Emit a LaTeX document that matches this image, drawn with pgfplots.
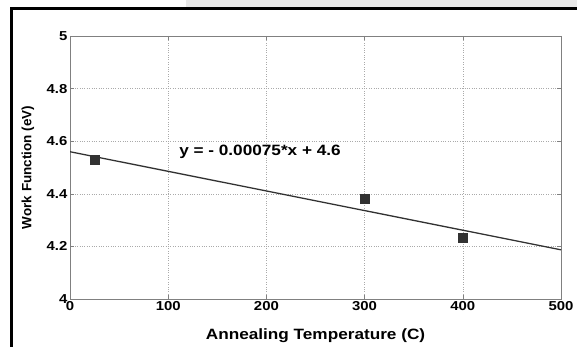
\documentclass[border=0pt]{standalone}
\usepackage{pgfplots}
\pgfplotsset{compat=1.18}
\usepackage{fontspec}
\setmainfont{Liberation Sans}
\newfontfamily\wfont[FakeStretch=1.15]{Liberation Sans}
\definecolor{axgray}{RGB}{128,128,128}
\definecolor{gridgray}{RGB}{170,170,170}
\definecolor{dk}{RGB}{50,50,50}
\definecolor{bargray}{RGB}{233,233,233}
\begin{document}
\begin{tikzpicture}[x=1bp,y=1bp]
\useasboundingbox (0,0) rectangle (577,347);
\fill[bargray] (186,340) rectangle (577,347);
\fill[black] (10,337) rectangle (577,340);
\fill[black] (10,0) rectangle (13,340);
\begin{axis}[
  at={(70bp,48bp)}, anchor=south west, scale only axis,
  width=491bp, height=263bp,
  xmin=0, xmax=500, ymin=4, ymax=5,
  xtick={0,100,200,300,400,500},
  xticklabels={0,100,200,300,400,500},
  ytick={4,4.2,4.4,4.6,4.8,5},
  yticklabels={4,4.2,4.4,4.6,4.8,5},
  grid=major,
  major grid style={gridgray, dotted, line width=0.6pt},
  axis line style={axgray, line width=0.8pt},
  tick style={axgray, line width=0.6pt},
  major tick length=4bp,
  tick align=inside,
  ticklabel style={font=\wfont\bfseries\fontsize{13}{14}\selectfont, text=black},
  xticklabel style={inner sep=2pt},
  yticklabel style={inner sep=2.5pt},
  /pgf/number format/assume math mode=true,
  xlabel={Annealing Temperature (C)},
  ylabel={Work Function (eV)},
  xlabel style={font=\wfont\bfseries\fontsize{15}{16}\selectfont, at={(axis description cs:0.5,-0.1407)}, anchor=center},
  ylabel style={font=\bfseries\fontsize{13.5}{14}\selectfont, at={(axis description cs:-0.0855,0.5)}, anchor=center},
]
\addplot[dk, line width=1.3pt, no marks] coordinates {(0,4.56) (500,4.187)};
\addplot[only marks, mark=square*, mark size=4.5bp, mark options={fill=dk, draw=dk}] coordinates {(25,4.53) (300,4.38) (400,4.232)};
\node[font=\wfont\bfseries\fontsize{15}{16}\selectfont, text=black] at (axis cs:193.5,4.559) {y = - 0.00075*x + 4.6};
\end{axis}
\end{tikzpicture}
\end{document}
